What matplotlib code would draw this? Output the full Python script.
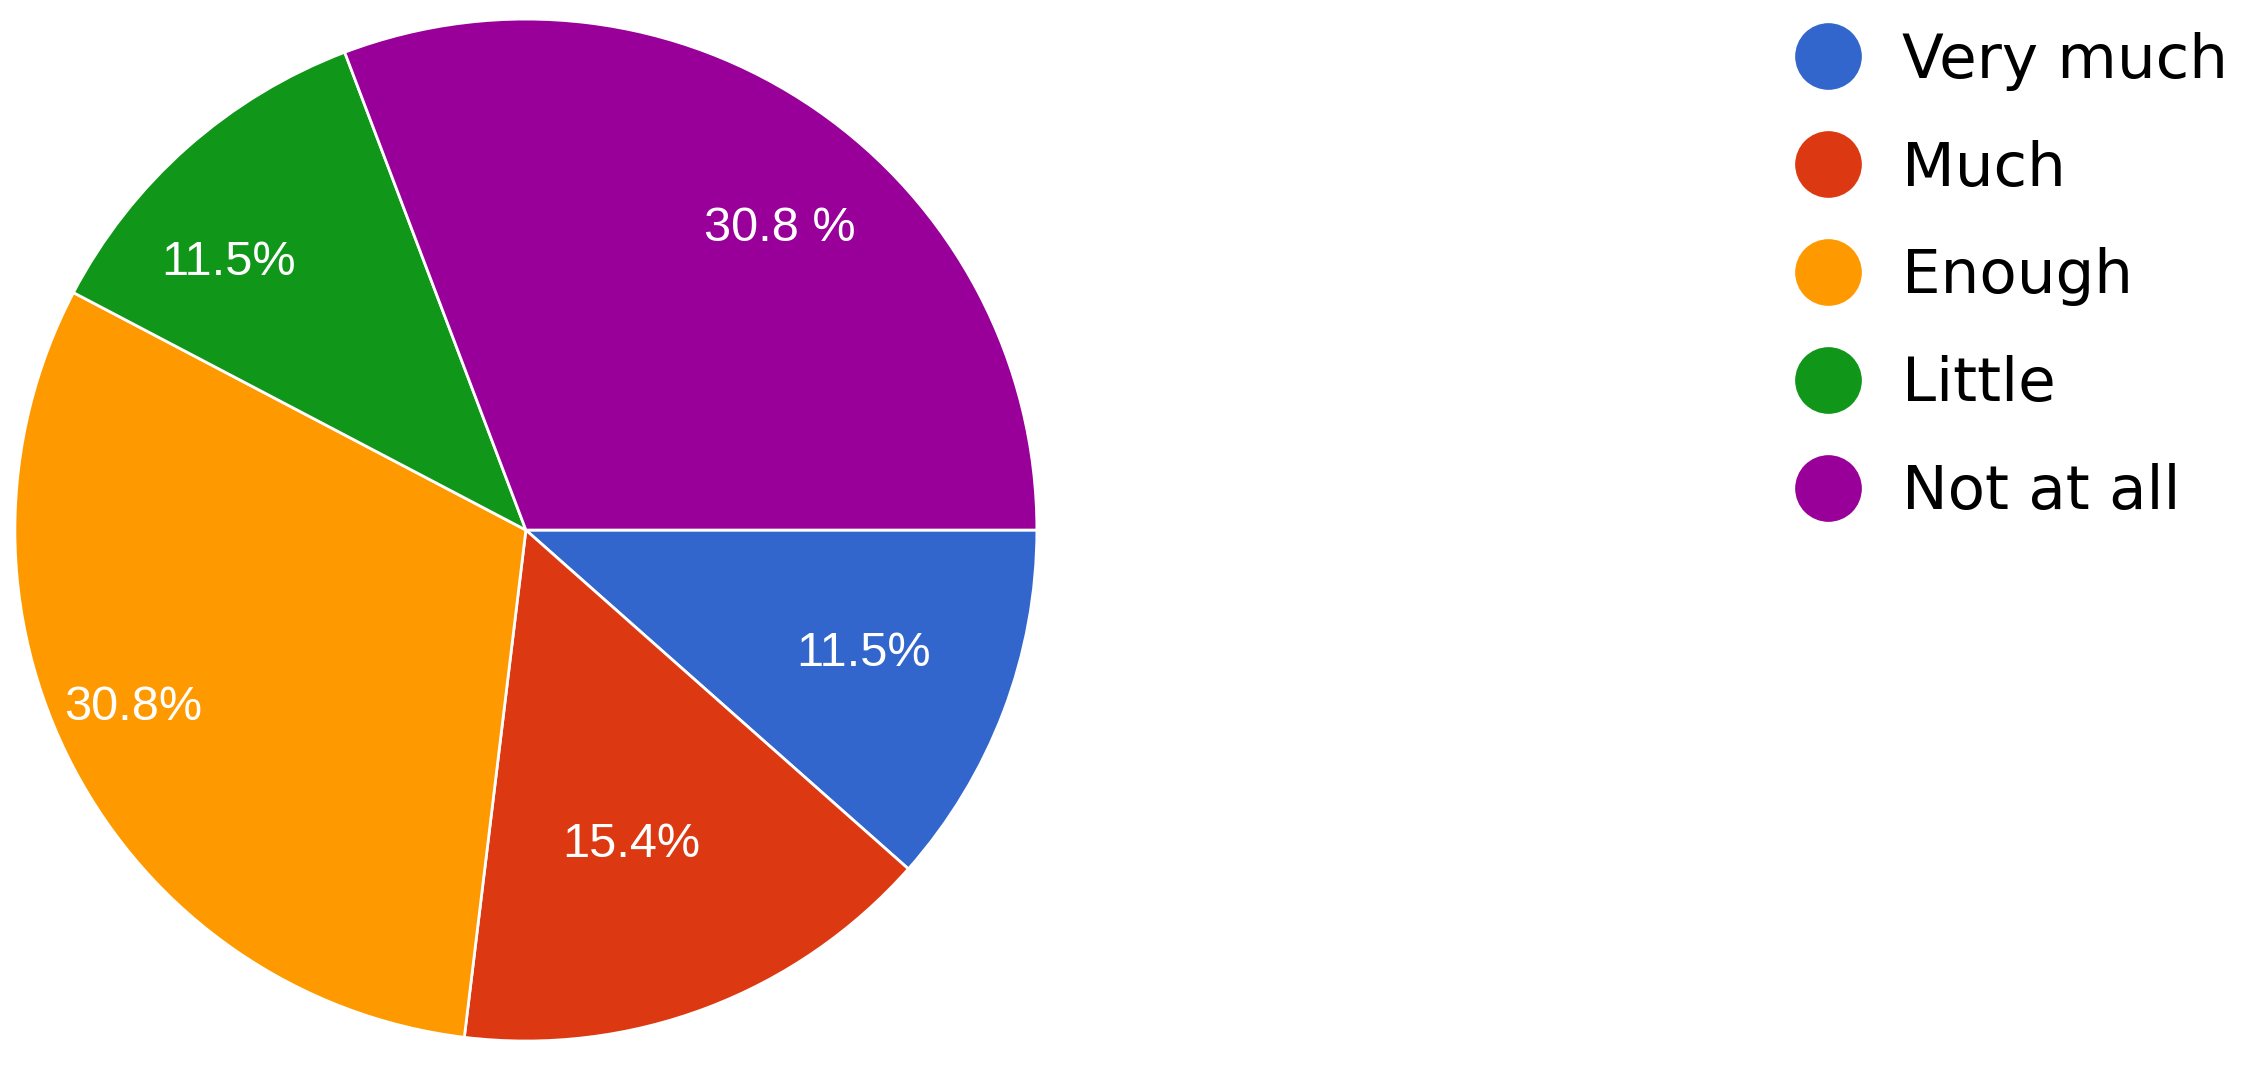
import numpy as np
import matplotlib.pyplot as plt
from matplotlib.lines import Line2D

categories = ['Very much', 'Much', 'Enough', 'Little', 'Not at all']
counts = [3, 4, 8, 3, 8]
pct_labels = ['11.5%', '15.4%', '30.8%', '11.5%', '30.8 %']
colors = ['#3366CC', '#DC3912', '#FF9900', '#109618', '#990099']

# label placement (distance from centre, angle nudge in degrees)
label_dist = [0.70, 0.64, 0.84, 0.79, 0.78]
label_nudge = [1.5, -2.0, -4.0, 6.0, -5.0]

fig = plt.figure(figsize=(22.59, 10.65), dpi=100)
ax = fig.add_axes([0.0066, 0.0225, 0.4524, 0.9596])

wedges, _ = ax.pie(counts, colors=colors, startangle=0, counterclock=False,
                   wedgeprops=dict(edgecolor='white', linewidth=2))
ax.set_xlim(-1.0, 1.0)
ax.set_ylim(-1.0, 1.0)
ax.set_aspect('equal')

for w, lab, d, nud in zip(wedges, pct_labels, label_dist, label_nudge):
    ang = np.deg2rad((w.theta1 + w.theta2) / 2 + nud)
    ax.text(d * np.cos(ang), d * np.sin(ang), lab, color='white',
            fontsize=35, family='Liberation Sans', ha='center',
            va='center_baseline')

handles = [Line2D([], [], linestyle='none', marker='o', markersize=47,
                  markerfacecolor=c, markeredgecolor=c) for c in colors]
fig.legend(handles, categories, loc='center left', bbox_to_anchor=(0.7955, 0.740),
           frameon=False, handlelength=1.0, handletextpad=0.72,
           labelspacing=0.80, borderpad=0, borderaxespad=0,
           prop={'family': 'DejaVu Sans', 'size': 44})

plt.savefig('out.png', dpi=100)
